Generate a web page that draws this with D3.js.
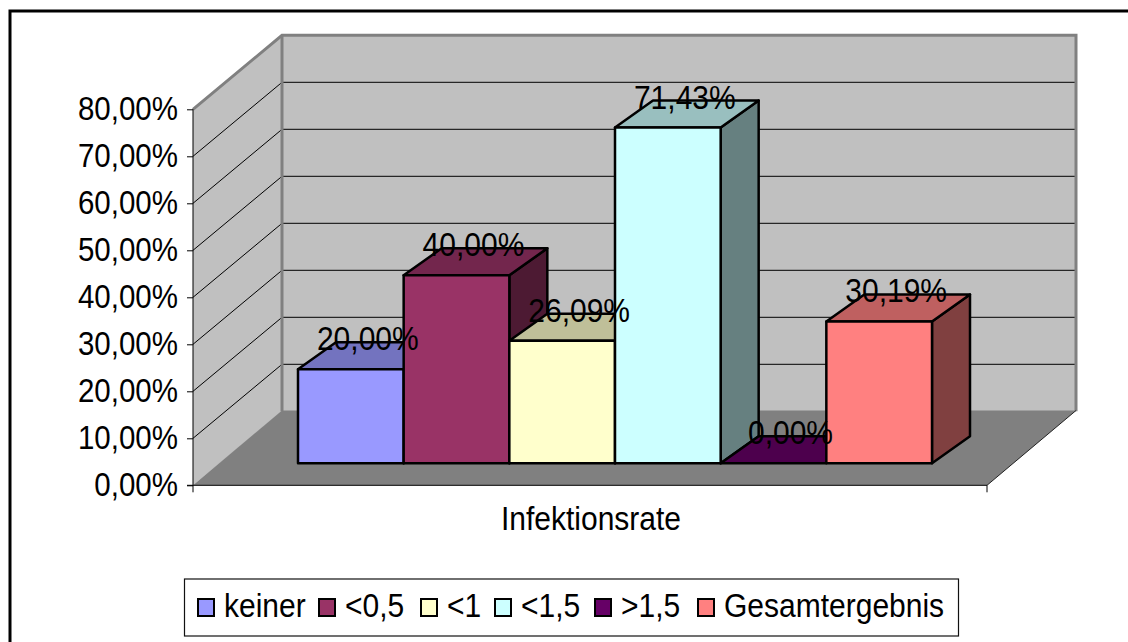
<!DOCTYPE html>
<html>
<head>
<meta charset="utf-8">
<script src="https://cdn.jsdelivr.net/npm/d3@7"></script>
<style>
html, body { margin: 0; padding: 0; background: #fff; overflow: hidden; }
svg { display: block; }
text { font-family: "Liberation Sans", Arial, sans-serif; fill: #000; }
</style>
</head>
<body>
<svg id="chart" width="1128" height="642"></svg>
<script>
// Infection rate per group
const categories = ["keiner", "<0,5", "<1", "<1,5", ">1,5", "Gesamtergebnis"];
const values = [20.00, 40.00, 26.09, 71.43, 0.00, 30.19];
const colors = ["#9999ff", "#993366", "#ffffcc", "#ccffff", "#660066", "#ff8080"];
const axisTicks = [0, 10, 20, 30, 40, 50, 60, 70, 80];
const axisName = "Infektionsrate";

const svg = d3.select("#chart");
const fmt = v => v.toFixed(2).replace(".", ",") + "%";

// All text uses a tall, slightly condensed face
const fontSize = 33;
const squeeze = (sel, k) => sel.each(function () {
  d3.select(this)
    .attr("textLength", this.getComputedTextLength() * k)
    .attr("lengthAdjust", "spacingAndGlyphs");
});

// Oblique projection of the plot box
const x0 = 193, x1 = 987, wallDx = 89, wallDy = -74, floorDy = -74.8;
const yFloor = 485.3, yTop = 109.3;
const y = d3.scaleLinear().domain([0, 80]).range([yFloor, yTop]);

// Outer frame, open at the bottom edge
svg.append("path")
  .attr("d", "M10,642V11H1128")
  .attr("fill", "none").attr("stroke", "#000").attr("stroke-width", 3);

// Back wall and side wall
const g = svg.append("g");
g.append("polygon")
  .attr("points", [[x0 + wallDx, y(80) + wallDy], [x1 + wallDx, y(80) + wallDy], [x1 + wallDx, yFloor + wallDy], [x0 + wallDx, yFloor + wallDy]].join(" "))
  .attr("fill", "#c0c0c0");
g.append("polygon")
  .attr("points", [[x0, y(80)], [x0 + wallDx, y(80) + wallDy], [x0 + wallDx, yFloor + wallDy], [x0, yFloor]].join(" "))
  .attr("fill", "#c0c0c0");

// Gridlines wrap from the side wall onto the back wall
g.selectAll("path.grid").data(axisTicks.slice(1, -1)).join("path")
  .attr("class", "grid")
  .attr("d", d => `M${x0},${y(d)}L${x0 + wallDx},${y(d) + wallDy}H${x1 + wallDx}`)
  .attr("fill", "none").attr("stroke", "#000").attr("stroke-width", 1);

// Grey wall outline
g.append("path")
  .attr("d", `M${x0},${y(80)}L${x0 + wallDx},${y(80) + wallDy}H${x1 + wallDx}V${yFloor + wallDy}`)
  .attr("fill", "none").attr("stroke", "#808080").attr("stroke-width", 3);
g.append("path")
  .attr("d", `M${x0 + wallDx},${y(80) + wallDy}V${yFloor + wallDy}`)
  .attr("fill", "none").attr("stroke", "#808080").attr("stroke-width", 3);

// Floor
g.append("polygon")
  .attr("points", [[x0, yFloor], [x1, yFloor], [x1 + wallDx, yFloor + floorDy], [x0 + wallDx, yFloor + floorDy]].join(" "))
  .attr("fill", "#808080");
g.append("path")
  .attr("d", `M${x1},${yFloor}L${x1 + wallDx},${yFloor + floorDy}`)
  .attr("fill", "none").attr("stroke", "#222").attr("stroke-width", 1);

// Value axis
const axis = d3.axisLeft(y).tickValues(axisTicks).tickSize(6).tickPadding(9)
  .tickFormat(d => fmt(d));
const axisG = svg.append("g").attr("transform", `translate(${x0},0)`).call(axis);
axisG.selectAll("text")
  .attr("font-size", fontSize)
  .style("font-family", '"Liberation Sans", Arial, sans-serif')
  .attr("fill", "#000")
  .call(squeeze, 29.5 / fontSize);
axisG.selectAll("line").attr("stroke", "#000");
axisG.select(".domain").attr("stroke", "#000").attr("d", `M0,${yTop}V${yFloor}`);

// Category axis line with its end ticks
svg.append("path")
  .attr("d", `M${x0 - 6},${yFloor}H${x1}M${x0},${yFloor}V${yFloor + 7}M${x1},${yFloor}V${yFloor + 7}`)
  .attr("fill", "none").attr("stroke", "#000").attr("stroke-width", 1);
svg.append("text")
  .attr("x", (x0 + x1) / 2 + 1).attr("y", 530)
  .attr("text-anchor", "middle").attr("font-size", fontSize)
  .text(axisName)
  .call(squeeze, 30 / fontSize);

// Columns, painted left to right
const band = d3.scaleBand().domain(categories).range([298, 932]);
const barBase = 463.3, depthX = 38, depthY = -27;
const h = v => yFloor - y(v);
const shade = (c, k) => { const r = d3.rgb(c); return d3.rgb(r.r * k, r.g * k, r.b * k).formatHex(); };

const bars = svg.selectAll("g.bar").data(categories).join("g").attr("class", "bar");
bars.each(function (c, i) {
  const b = d3.select(this);
  const l = band(c), r = l + band.bandwidth(), t = barBase - h(values[i]);
  const edge = sel => sel.attr("stroke", "#000").attr("stroke-width", 2.5).attr("stroke-linejoin", "round");
  if (values[i] > 0) {
    b.append("polygon")
      .attr("points", [[r, barBase], [r + depthX, barBase + depthY], [r + depthX, t + depthY], [r, t]].join(" "))
      .attr("fill", shade(colors[i], 0.5)).call(edge);
  }
  b.append("polygon")
    .attr("points", [[l, t], [r, t], [r + depthX, t + depthY], [l + depthX, t + depthY]].join(" "))
    .attr("fill", shade(colors[i], 0.75)).call(edge);
  b.append("rect")
    .attr("x", l).attr("y", t).attr("width", r - l).attr("height", barBase - t)
    .attr("fill", colors[i]).call(edge);
});

// Value labels sit above all columns
svg.selectAll("text.value").data(categories).join("text")
  .attr("class", "value")
  .attr("x", c => band(c) + band.bandwidth() / 2 + 17)
  .attr("y", (c, i) => barBase - h(values[i]) - 19)
  .attr("text-anchor", "middle").attr("font-size", fontSize)
  .text((c, i) => fmt(values[i]))
  .call(squeeze, 30 / fontSize);

// Legend
const legend = svg.append("g");
legend.append("rect")
  .attr("x", 184.5).attr("y", 579).attr("width", 774).attr("height", 57)
  .attr("fill", "#fff").attr("stroke", "#111").attr("stroke-width", 1.2);
const legendX = [198, 319, 421, 495, 595, 698];
const items = legend.selectAll("g").data(categories).join("g")
  .attr("transform", (c, i) => `translate(${legendX[i]},599)`);
items.append("rect").attr("width", 16).attr("height", 17)
  .attr("fill", (c, i) => colors[i]).attr("stroke", "#000").attr("stroke-width", 2);
items.append("text").attr("x", 26).attr("y", 18).attr("font-size", fontSize).text(c => c)
  .call(squeeze, 30 / fontSize);
</script>
</body>
</html>
